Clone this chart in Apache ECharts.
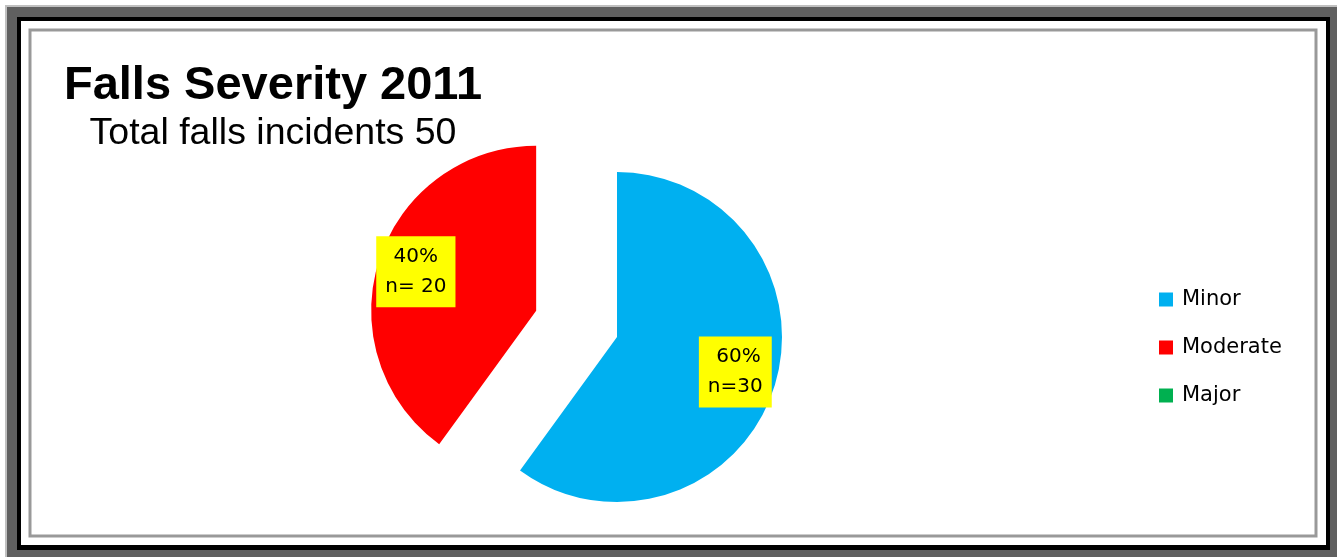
<!DOCTYPE html>
<html>
<head>
<meta charset="utf-8">
<script src="https://cdn.jsdelivr.net/npm/echarts@6/dist/echarts.min.js"></script>
<style>
html,body{margin:0;padding:0;background:#fff;}
#chart{width:1337px;height:557px;}
</style>
</head>
<body>
<div id="chart"></div>
<script>
var categories = ['Minor', 'Moderate', 'Major'];
var values = [30, 20, 0];
var labelTexts = [' 60%\nn=30', '40%\nn= 20', ''];
var colors = ['#00B0F0', '#FF0000', '#00B050'];
var explodedCategory = 'Moderate';
var titleText = 'Falls Severity 2011';
var subtitleText = 'Total falls incidents 50';

var chart = echarts.init(document.getElementById('chart'), null, {renderer: 'canvas'});

var mainData = categories.map(function (c, i) {
  return {name: c, value: values[i], selected: c === explodedCategory, itemStyle: {color: colors[i]}};
});
var labelData = categories.map(function (c, i) {
  return {
    name: c, value: values[i], selected: c === explodedCategory,
    label: {show: values[i] > 0, formatter: labelTexts[i]}
  };
});

var option = {
  animation: false,
  graphic: {
    elements: [
      {type: 'rect', z: -10, shape: {x: 5, y: 5, width: 1332, height: 552}, style: {fill: '#c0c0c0'}},
      {type: 'rect', z: -9, shape: {x: 7, y: 7, width: 1330, height: 550}, style: {fill: '#606060'}},
      {type: 'rect', z: -8, shape: {x: 17, y: 17, width: 1313, height: 533}, style: {fill: '#000'}},
      {type: 'rect', z: -7, shape: {x: 21, y: 21, width: 1305, height: 524}, style: {fill: '#fff'}},
      {type: 'rect', z: -6, shape: {x: 30, y: 30, width: 1286, height: 506}, style: {fill: 'none', stroke: '#999', lineWidth: 3}}
    ]
  },
  title: {
    text: titleText,
    subtext: subtitleText,
    left: 273,
    textAlign: 'center',
    top: 63,
    padding: 0,
    itemGap: 5,
    textStyle: {fontFamily: '"Liberation Sans", Arial, sans-serif', fontSize: 47, fontWeight: 'bold', color: '#000'},
    subtextStyle: {fontFamily: '"Liberation Sans", Arial, sans-serif', fontSize: 37.5, fontWeight: 'normal', color: '#000'}
  },
  legend: {
    orient: 'vertical',
    left: 1159,
    top: 289,
    padding: 0,
    itemWidth: 14,
    itemHeight: 14,
    itemGap: 27,
    icon: 'rect',
    selectedMode: false,
    data: categories,
    textStyle: {fontFamily: '"DejaVu Sans", sans-serif', fontSize: 21, color: '#000', padding: [0, 0, 0, 4]}
  },
  series: [
    {
      type: 'pie',
      name: 'main',
      center: [617, 337],
      radius: [0, 165],
      startAngle: 90,
      clockwise: true,
      selectedMode: 'single',
      selectedOffset: 85,
      avoidLabelOverlap: false,
      label: {show: false},
      labelLine: {show: false},
      emphasis: {disabled: true},
      itemStyle: {borderWidth: 0},
      data: mainData
    },
    {
      type: 'pie',
      name: 'labels',
      center: [617, 337],
      radius: [82, 165],
      startAngle: 90,
      clockwise: true,
      selectedMode: 'single',
      selectedOffset: 85,
      silent: true,
      avoidLabelOverlap: false,
      itemStyle: {color: 'rgba(0,0,0,0)', borderWidth: 0},
      emphasis: {disabled: true},
      labelLine: {show: false},
      label: {
        show: true,
        position: 'inside',
        offset: [-2, -4],
        fontFamily: '"DejaVu Sans", sans-serif',
        fontSize: 20,
        lineHeight: 30,
        color: '#000',
        backgroundColor: '#FFFF00',
        padding: [5, 9, 6, 9]
      },
      data: labelData
    }
  ]
};
chart.setOption(option);
</script>
</body>
</html>
